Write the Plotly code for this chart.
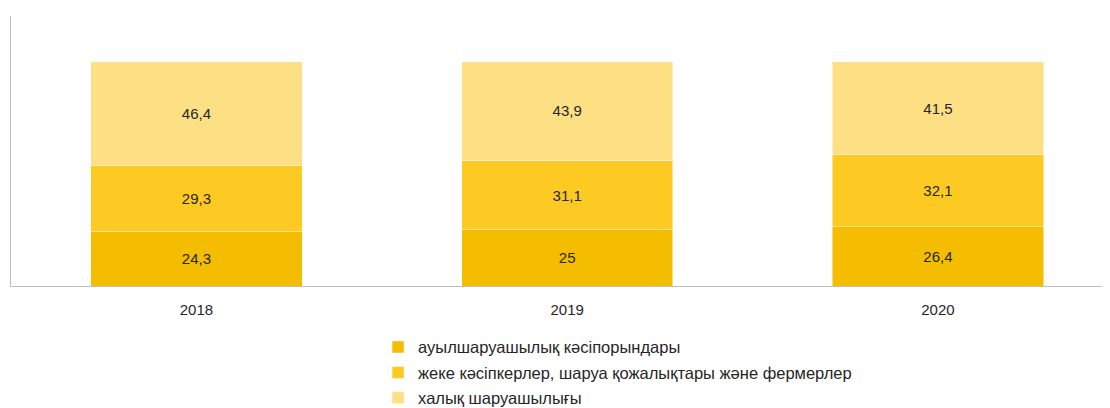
import plotly.graph_objects as go

years = ["2018", "2019", "2020"]
series_names = [
    "ауылшаруашылық кәсіпорындары",
    "жеке кәсіпкерлер, шаруа қожалықтары және фермерлер",
    "халық шаруашылығы",
]
enterprises = [24.3, 25, 26.4]
farmers = [29.3, 31.1, 32.1]
households = [46.4, 43.9, 41.5]
colors = ["#F4BD00", "#FDC923", "#FDDF84"]

FONT = "Liberation Sans, Arial, sans-serif"

fig = go.Figure()
for i, (name, vals) in enumerate(zip(series_names, [enterprises, farmers, households])):
    fig.add_trace(go.Bar(
        x=years, y=vals, name=name, legendgroup=f"g{i}",
        marker=dict(color=colors[i], line=dict(color="rgba(255,255,255,0.6)", width=0.8)),
        width=0.57,
        texttemplate="%{y}", textposition="inside", insidetextanchor="middle",
        textfont=dict(color="#262626", size=15, family=FONT),
        hoverinfo="skip",
    ))

# page body has an 8px default margin: size the figure to fit the 1110x408 window
fig.update_layout(
    barmode="stack",
    width=1102, height=400,
    margin=dict(l=3, r=0, t=8, b=122, autoexpand=False),
    paper_bgcolor="white", plot_bgcolor="white",
    separators=", ",
    font=dict(family=FONT, size=15, color="#262626"),
    showlegend=True,
    legend=dict(
        orientation="v", x=0.334, xanchor="left", y=-0.162, yanchor="top",
        traceorder="grouped", tracegroupgap=1, itemwidth=30,
        font=dict(size=16.5, color="#262626"),
    ),
    xaxis=dict(
        type="category", range=[-0.5, 2.464],
        showline=True, linecolor="#BFBFBF", linewidth=1,
        ticks="", showgrid=False, zeroline=False, ticklabelstandoff=10,
        tickfont=dict(size=15, color="#262626"),
    ),
    yaxis=dict(
        range=[0, 120.4], showline=True, linecolor="#BFBFBF", linewidth=1,
        showticklabels=False, ticks="", showgrid=False, zeroline=False,
    ),
)

fig.write_html("out.html")
